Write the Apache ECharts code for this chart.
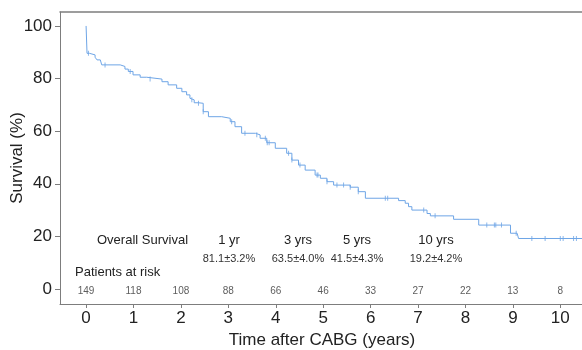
<!DOCTYPE html>
<html>
<head>
<meta charset="utf-8">
<script src="https://cdn.jsdelivr.net/npm/echarts@6/dist/echarts.min.js"></script>
<style>
  html, body { margin: 0; padding: 0; background: #fff; }
  #chart { width: 582px; height: 350px; }
</style>
</head>
<body>
<div id="chart"></div>
<script>
// Kaplan-Meier step points: survival (%) after each event time (years)
const eventTimes = [0, 0.02, 0.07, 0.19, 0.23, 0.30, 0.33, 0.72, 0.82, 0.89, 0.99, 1.14, 1.28, 1.60, 1.73, 1.91, 2.02, 2.12, 2.19, 2.23, 2.28, 2.37, 2.47, 2.58, 2.86, 3.04, 3.14, 3.28, 3.57, 3.67, 3.81, 3.99, 4.23, 4.34, 4.48, 4.62, 4.83, 4.94, 5.08, 5.22, 5.57, 5.74, 5.89, 6.59, 6.73, 6.80, 6.87, 7.19, 7.26, 7.75, 8.28, 8.95, 9.09, 9.12, 10.49]
const survival = [100, 89.6, 89.0, 88.1, 87.1, 86.4, 85.2, 84.6, 83.6, 82.7, 81.4, 80.5, 79.8, 78.8, 77.6, 76.3, 75.0, 73.8, 72.5, 71.9, 70.8, 70.6, 67.4, 65.5, 64.9, 63.6, 61.7, 59.2, 58.6, 57.3, 55.6, 53.5, 51.6, 49.0, 47.1, 45.2, 43.3, 42.1, 40.8, 39.5, 38.7, 37.0, 34.5, 33.6, 32.6, 31.3, 30.0, 28.7, 27.8, 26.5, 24.3, 21.2, 20.5, 19.2, 19.2]
const censorTimes = [0.05, 0.40, 0.93, 1.35, 2.23, 2.37, 2.47, 3.07, 3.35, 3.60, 3.78, 3.82, 3.86, 4.27, 4.34, 4.51, 4.87, 4.89, 5.08, 5.29, 5.43, 5.57, 5.74, 6.31, 6.36, 7.12, 7.36, 8.45, 8.61, 8.64, 8.76, 9.07, 9.40, 9.68, 10.0, 10.06, 10.28, 10.34]

const riskYears = [0, 1, 2, 3, 4, 5, 6, 7, 8, 9, 10]
const riskCounts = [149, 118, 108, 88, 66, 46, 33, 27, 22, 13, 8]

const milestoneNames = ['1 yr', '3 yrs', '5 yrs', '10 yrs']
const milestoneValues = ['81.1±3.2%', '63.5±4.0%', '41.5±4.3%', '19.2±4.2%']

const xTicks = [0, 1, 2, 3, 4, 5, 6, 7, 8, 9, 10]
const yTicks = [0, 20, 40, 60, 80, 100]

const FONT = 'Liberation Sans, Arial, Helvetica, sans-serif'
const LINE = '#6ea5e6'
const AXIS = '#7d7d7d'

function survAt (t) {
  let s = survival[0]
  for (let i = 0; i < eventTimes.length; i++) {
    if (eventTimes[i] <= t) s = survival[i]
  }
  return s
}

// text layout for the milestone table (pixel centres)
const milestoneX = [229, 298, 357, 436]
const headY = 240
const valueY = 259

let texts = [
  {type: 'text', x: 97, y: headY, style: {text: 'Overall Survival', font: '13px ' + FONT, fill: '#222', verticalAlign: 'middle'}},
  {type: 'text', x: 75, y: 272, style: {text: 'Patients at risk', font: '13px ' + FONT, fill: '#222', verticalAlign: 'middle'}}
]
milestoneNames.forEach((n, i) => {
  texts.push({type: 'text', x: milestoneX[i], y: headY, style: {text: n, font: '13px ' + FONT, fill: '#222', align: 'center', verticalAlign: 'middle'}})
  texts.push({type: 'text', x: milestoneX[i], y: valueY, style: {text: milestoneValues[i], font: '11px ' + FONT, fill: '#333', align: 'center', verticalAlign: 'middle'}})
})

let chart = echarts.init(document.getElementById('chart'))
chart.setOption({
  animation: false,
  textStyle: {fontFamily: FONT},
  grid: {
    left: 60,
    top: 12,
    width: 524,
    bottom: 46,
    outerBoundsMode: 'none',
    containLabel: false
  },
  xAxis: [
    {
      type: 'value',
      min: -0.55,
      max: 10.5,
      name: 'Time after CABG (years)',
      nameLocation: 'middle',
      nameGap: 27,
      nameTextStyle: {fontSize: 17, color: '#222', fontFamily: FONT},
      axisLine: {show: true, onZero: false, lineStyle: {color: AXIS}},
      axisTick: {show: true, length: 4, customValues: xTicks, lineStyle: {color: AXIS}},
      axisLabel: {customValues: xTicks, fontSize: 17, color: '#222', margin: 6},
      splitLine: {show: false}
    },
    {
      // top frame line only
      type: 'value',
      position: 'top',
      min: -0.55,
      max: 10.5,
      axisLine: {show: true, onZero: false, lineStyle: {color: AXIS, width: 1.5}},
      axisTick: {show: false},
      axisLabel: {show: false},
      splitLine: {show: false}
    }
  ],
  yAxis: {
    type: 'value',
    min: -5.7,
    max: 105.3,
    name: 'Survival (%)',
    nameLocation: 'middle',
    nameGap: 34,
    nameMoveOverlap: false,
    nameTextStyle: {fontSize: 17, color: '#222', fontFamily: FONT},
    axisLine: {show: true, onZero: false, lineStyle: {color: AXIS}},
    axisTick: {show: true, length: 5, customValues: yTicks, lineStyle: {color: AXIS}},
    axisLabel: {customValues: yTicks, fontSize: 17, color: '#222', margin: 8},
    splitLine: {show: false}
  },
  graphic: texts,
  series: [
    {
      name: 'Overall Survival',
      type: 'line',
      step: 'end',
      symbol: 'none',
      lineStyle: {color: LINE, width: 1},
      data: eventTimes.map((t, i) => [t, survival[i]])
    },
    {
      name: 'censored',
      type: 'scatter',
      symbol: 'rect',
      symbolSize: [1, 5],
      itemStyle: {color: LINE},
      data: censorTimes.map(t => [t, survAt(t)])
    },
    {
      name: 'at risk',
      type: 'scatter',
      symbolSize: 1,
      itemStyle: {color: 'transparent'},
      label: {
        show: true,
        position: 'inside',
        fontSize: 10,
        color: '#333',
        formatter: p => riskCounts[p.dataIndex]
      },
      data: riskYears.map(y => [y, -0.8])
    }
  ]
})
</script>
</body>
</html>
